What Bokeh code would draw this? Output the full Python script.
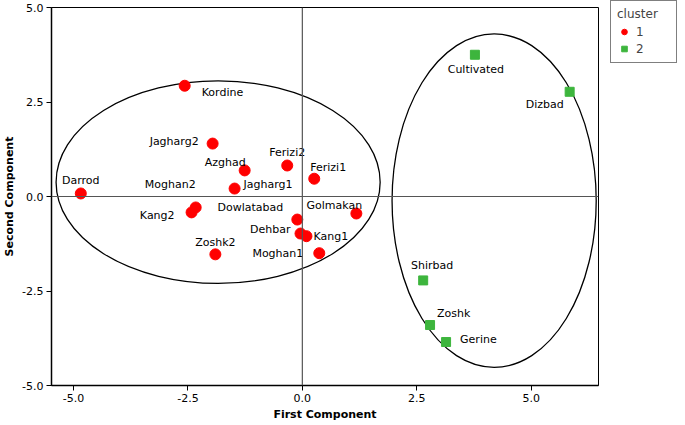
from bokeh.plotting import figure
from bokeh.models import (ColumnDataSource, Range1d, FixedTicker, PrintfTickFormatter,
                          Span, Legend, LegendItem)
from bokeh.core.properties import value
from bokeh.embed import file_html
from bokeh.resources import INLINE

# ---- data ----
c1_names = ["Kordine", "Jagharg2", "Azghad", "Ferizi2", "Ferizi1", "Jagharg1", "Darrod",
            "Moghan2", "Kang2", "Dowlatabad", "Golmakan", "Dehbar", "Kang1", "Moghan1", "Zoshk2"]
c1_x = [-2.57, -1.96, -1.26, -0.33, 0.26, -1.48, -4.84, -2.33, -2.42, -0.11, 1.18, -0.04, 0.09, 0.37, -1.90]
c1_y = [2.93, 1.40, 0.69, 0.82, 0.47, 0.21, 0.08, -0.29, -0.42, -0.61, -0.45, -0.98, -1.05, -1.50, -1.53]

c2_names = ["Cultivated", "Dizbad", "Shirbad", "Zoshk", "Gerine"]
c2_x = [3.77, 5.84, 2.64, 2.79, 3.14]
c2_y = [3.75, 2.77, -2.22, -3.40, -3.85]

# cluster ellipses: centre x, centre y, full width, full height
ell_x = [-1.84, 4.19]
ell_y = [0.38, -0.11]
ell_w = [7.08, 4.46]
ell_h = [5.36, 8.82]

ticks = [-5.0, -2.5, 0.0, 2.5, 5.0]

# ---- label placement (screen px offsets, style only) ----
c1_dx = [17, -14, 1, 0, -4, 9, 0, 0, -17, -14, -22, -10, 7, -16, 0]
c1_dy = [7, -2, -8, -13, -11, -4, -13, -23, 3, -12, -8, -4, 0, 0, -12]
c1_al = ["left", "right", "right", "center", "left", "left", "center", "right", "right",
         "right", "center", "right", "left", "right", "center"]
c2_dx = [1, -6, 9, 7, 14]
c2_dy = [15, 13, -15, -12, -3]
c2_al = ["center", "right", "center", "left", "left"]

FONT = "DejaVu Sans"
FRAME_W, FRAME_H = 547, 378

p = figure(frame_width=FRAME_W, frame_height=FRAME_H, output_backend="svg",
           toolbar_location=None,
           x_range=Range1d(-5.48, 6.47), y_range=Range1d(-5.0, 5.0),
           min_border_left=43, min_border_top=7, min_border_bottom=0, min_border_right=79)
p.grid.visible = False
p.background_fill_color = "white"
p.border_fill_color = "white"
p.outline_line_color = "black"
p.outline_line_width = 1

for ax in (p.xaxis[0], p.yaxis[0]):
    ax.ticker = FixedTicker(ticks=ticks)
    ax.formatter = PrintfTickFormatter(format="%.1f")
    ax.axis_line_color = "black"
    ax.axis_line_width = 1.5
    ax.major_tick_line_color = "black"
    ax.major_tick_in = 0
    ax.major_tick_out = 5
    ax.minor_tick_line_color = None
    ax.major_label_text_font = FONT
    ax.major_label_text_font_size = "11px"
    ax.major_label_text_color = "black"
    ax.axis_label_text_font = FONT
    ax.axis_label_text_font_size = "11px"
    ax.axis_label_text_font_style = "bold"
    ax.axis_label_text_color = "black"
    ax.major_label_standoff = 3
    ax.axis_label_standoff = 3

p.xaxis.axis_label = "First Component"
p.yaxis.axis_label = "Second Component"

p.add_layout(Span(location=0, dimension="width", line_color="#555555", line_width=1.2))
p.add_layout(Span(location=0, dimension="height", line_color="#555555", line_width=1.2))

p.ellipse(x=ell_x, y=ell_y, width=ell_w, height=ell_h, fill_color=None,
          line_color="black", line_width=1.3)

s1 = ColumnDataSource(dict(x=c1_x, y=c1_y, name=c1_names, dx=c1_dx, dy=c1_dy, al=c1_al))
s2 = ColumnDataSource(dict(x=c2_x, y=c2_y, name=c2_names, dx=c2_dx, dy=c2_dy, al=c2_al))

r1 = p.scatter("x", "y", source=s1, marker="circle", size=11, fill_color="#ff0000",
               line_color="#ff0000")
r2 = p.scatter("x", "y", source=s2, marker="square", size=9, fill_color="#3db53d",
               line_color="#3db53d")

for s in (s1, s2):
    p.text("x", "y", text="name", source=s, x_offset="dx", y_offset="dy", text_align="al",
           text_baseline="middle", text_font=value(FONT), text_font_size="11px",
           text_color="black")

legend = Legend(items=[LegendItem(label="1", renderers=[r1]),
                       LegendItem(label="2", renderers=[r2])],
                title="cluster")
legend.title_text_font = FONT
legend.title_text_font_size = "12px"
legend.title_text_font_style = "normal"
legend.title_standoff = 3
legend.label_text_font = FONT
legend.label_text_font_size = "12px"
legend.label_width = 34
legend.glyph_width = 14
legend.glyph_height = 15
legend.label_height = 15
legend.spacing = 2
legend.padding = 6
legend.margin = 0
legend.border_line_color = "black"
legend.border_line_width = 1.5
legend.background_fill_alpha = 1
p.add_layout(legend, "right")
legend.location = (12, FRAME_H - 56)

open("out.html", "w").write(file_html(p, INLINE))
